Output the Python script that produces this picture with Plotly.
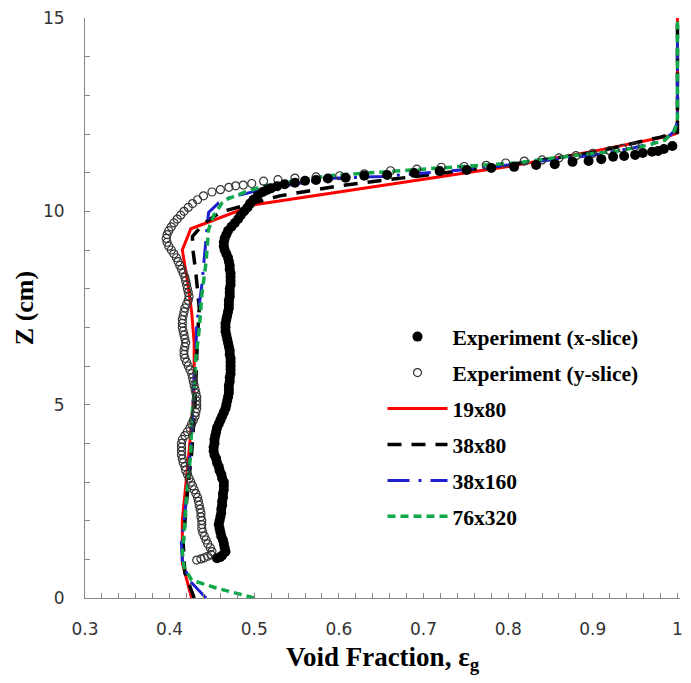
import plotly.graph_objects as go

# ---------------- data ----------------
# Experiment (x-slice): void fraction and height (cm)
xs_void = [0.456, 0.460, 0.462, 0.466, 0.465, 0.464, 0.463, 0.461, 0.460, 0.459, 0.458,
           0.459, 0.460, 0.461, 0.461, 0.462, 0.462, 0.463, 0.463, 0.464, 0.464, 0.464,
           0.462, 0.461, 0.459, 0.458, 0.456, 0.455, 0.453, 0.452, 0.452, 0.453, 0.453,
           0.454, 0.455, 0.456, 0.458, 0.460, 0.462, 0.464, 0.466, 0.467, 0.468, 0.469,
           0.470, 0.470, 0.470, 0.471, 0.471, 0.472, 0.472, 0.472, 0.472, 0.472, 0.471,
           0.471, 0.470, 0.469, 0.468, 0.467, 0.466, 0.466, 0.466, 0.467, 0.468, 0.469,
           0.470, 0.470, 0.470, 0.471, 0.471, 0.471, 0.472, 0.472, 0.472, 0.472, 0.471,
           0.471, 0.470, 0.469, 0.467, 0.465, 0.464, 0.464, 0.465, 0.467, 0.469, 0.473,
           0.477, 0.481, 0.484, 0.488, 0.492, 0.495, 0.499, 0.504, 0.510, 0.515, 0.520,
           0.527, 0.536, 0.548, 0.560, 0.573, 0.587, 0.608, 0.630, 0.657, 0.689, 0.719,
           0.751, 0.780, 0.807, 0.833, 0.855, 0.876, 0.895, 0.910, 0.924, 0.937, 0.950,
           0.959, 0.970, 0.977, 0.984, 0.994]
xs_z = [1.03, 1.06, 1.10, 1.20, 1.30, 1.40, 1.50, 1.60, 1.70, 1.80, 1.90,
        2.00, 2.10, 2.20, 2.30, 2.40, 2.50, 2.60, 2.70, 2.80, 2.90, 3.00,
        3.10, 3.20, 3.30, 3.40, 3.50, 3.60, 3.70, 3.80, 3.90, 4.00, 4.10,
        4.20, 4.30, 4.40, 4.50, 4.60, 4.70, 4.80, 4.90, 5.00, 5.10, 5.20,
        5.30, 5.40, 5.50, 5.60, 5.70, 5.80, 5.90, 6.00, 6.10, 6.20, 6.30,
        6.40, 6.50, 6.60, 6.70, 6.80, 6.90, 7.00, 7.10, 7.20, 7.30, 7.40,
        7.50, 7.60, 7.70, 7.80, 7.90, 8.00, 8.10, 8.20, 8.30, 8.40, 8.50,
        8.60, 8.70, 8.80, 8.90, 9.00, 9.10, 9.20, 9.30, 9.40, 9.50, 9.60,
        9.70, 9.80, 9.90, 10.00, 10.10, 10.20, 10.30, 10.40, 10.50, 10.55, 10.60,
        10.65, 10.70, 10.74, 10.79, 10.81, 10.85, 10.87, 10.92, 10.94, 10.99, 11.04,
        11.07, 11.12, 11.15, 11.20, 11.22, 11.28, 11.30, 11.35, 11.41, 11.43, 11.46,
        11.51, 11.54, 11.56, 11.61, 11.69]

# Experiment (y-slice)
ys_void = [0.432, 0.437, 0.441, 0.445, 0.449, 0.450, 0.448, 0.445, 0.443, 0.441, 0.439,
           0.438, 0.438, 0.438, 0.437, 0.437, 0.436, 0.435, 0.434, 0.433, 0.431, 0.429,
           0.427, 0.425, 0.423, 0.421, 0.419, 0.418, 0.416, 0.415, 0.414, 0.414, 0.414,
           0.414, 0.415, 0.418, 0.421, 0.424, 0.426, 0.428, 0.430, 0.431, 0.432, 0.432,
           0.432, 0.432, 0.431, 0.430, 0.429, 0.428, 0.427, 0.426, 0.424, 0.422, 0.420,
           0.418, 0.417, 0.417, 0.418, 0.419, 0.418, 0.417, 0.416, 0.415, 0.415, 0.415,
           0.416, 0.417, 0.418, 0.420, 0.422, 0.423, 0.422, 0.421, 0.420, 0.419, 0.418,
           0.416, 0.414, 0.412, 0.410, 0.408, 0.405, 0.402, 0.399, 0.397, 0.396, 0.397,
           0.399, 0.402, 0.405, 0.409, 0.413, 0.417, 0.422, 0.427, 0.433, 0.440, 0.450,
           0.460, 0.470, 0.478, 0.487, 0.497, 0.511, 0.528, 0.548, 0.573, 0.601, 0.630,
           0.661, 0.692, 0.721, 0.748, 0.774, 0.797, 0.819, 0.840, 0.860, 0.880, 0.900,
           0.920, 0.935, 0.950]
ys_z = [0.98, 1.01, 1.04, 1.08, 1.12, 1.20, 1.30, 1.40, 1.50, 1.60, 1.70,
        1.80, 1.90, 2.00, 2.10, 2.20, 2.30, 2.40, 2.50, 2.60, 2.70, 2.80,
        2.90, 3.00, 3.10, 3.20, 3.30, 3.40, 3.50, 3.60, 3.70, 3.80, 3.90,
        4.00, 4.10, 4.20, 4.30, 4.40, 4.50, 4.60, 4.70, 4.80, 4.90, 5.00,
        5.10, 5.20, 5.30, 5.40, 5.50, 5.60, 5.70, 5.80, 5.90, 6.00, 6.10,
        6.20, 6.30, 6.40, 6.50, 6.60, 6.70, 6.80, 6.90, 7.00, 7.10, 7.20,
        7.30, 7.40, 7.50, 7.60, 7.70, 7.80, 7.90, 8.00, 8.10, 8.20, 8.30,
        8.40, 8.50, 8.60, 8.70, 8.80, 8.90, 9.00, 9.10, 9.20, 9.30, 9.40,
        9.50, 9.60, 9.70, 9.80, 9.90, 10.00, 10.10, 10.20, 10.30, 10.40, 10.50,
        10.56, 10.62, 10.66, 10.68, 10.72, 10.78, 10.82, 10.86, 10.89, 10.92, 10.97,
        11.05, 11.09, 11.14, 11.16, 11.19, 11.25, 11.30, 11.33, 11.38, 11.44, 11.50,
        11.57, 11.63, 11.68]

# Simulations
m19x80_void = [0.426, 0.415, 0.415, 0.419, 0.423, 0.429, 0.429, 0.426, 0.421, 0.415,
               0.425, 0.500, 0.600, 0.700, 0.800, 0.900, 0.990, 1.000, 1.000]
m19x80_z = [0.0, 0.9, 2.0, 2.9, 3.8, 5.4, 6.6, 7.4, 8.2, 9.0,
            9.55, 10.17, 10.50, 10.83, 11.16, 11.55, 11.95, 12.03, 15.0]

m38x80_void = [0.429, 0.418, 0.416, 0.420, 0.426, 0.430, 0.433, 0.435, 0.431, 0.427,
               0.427, 0.440, 0.460, 0.480, 0.530, 0.600, 0.700, 0.800, 0.900, 0.980,
               1.000, 1.000]
m38x80_z = [0.0, 0.65, 1.4, 2.5, 3.75, 5.0, 6.8, 7.5, 8.4, 9.1,
            9.35, 9.68, 9.98, 10.10, 10.40, 10.66, 10.92, 11.20, 11.52, 11.92,
            12.05, 15.0]

m38x160_void = [0.443, 0.423, 0.415, 0.414, 0.419, 0.426, 0.429, 0.431, 0.432, 0.435,
                0.438, 0.444, 0.446, 0.458, 0.470, 0.508, 0.587, 0.650, 0.704, 0.751,
                0.800, 0.900, 0.950, 0.985, 0.995, 1.000, 1.000]
m38x160_z = [0.0, 0.46, 0.98, 1.41, 2.39, 4.19, 5.78, 6.37, 7.06, 7.65,
             8.09, 9.53, 9.97, 10.22, 10.35, 10.56, 10.85, 10.90, 10.99, 11.08,
             11.20, 11.45, 11.65, 11.85, 12.05, 12.30, 15.0]

m76x320_void = [0.500, 0.455, 0.426, 0.417, 0.415, 0.417, 0.420, 0.425, 0.426, 0.429,
                0.431, 0.435, 0.438, 0.443, 0.446, 0.452, 0.462, 0.466, 0.493, 0.513,
                0.587, 0.665, 0.719, 0.774, 0.809, 0.879, 0.930, 0.965, 0.985, 0.997,
                1.000, 1.000]
m76x320_z = [0.0, 0.26, 0.46, 0.80, 1.20, 1.62, 2.65, 3.75, 4.62, 5.34,
             6.19, 6.96, 7.83, 8.68, 9.53, 9.89, 10.22, 10.30, 10.53, 10.66,
             10.92, 11.05, 11.12, 11.20, 11.25, 11.45, 11.56, 11.71, 11.84, 12.10,
             12.40, 15.0]

x_ticks = [0.3, 0.4, 0.5, 0.6, 0.7, 0.8, 0.9, 1.0]
x_ticklabels = ["0.3", "0.4", "0.5", "0.6", "0.7", "0.8", "0.9", "1"]
y_ticks = [0, 5, 10, 15]

# ---------------- figure ----------------
fig = go.Figure()

fig.add_trace(go.Scatter(x=m19x80_void, y=m19x80_z, mode="lines", name="19x80",
                         line=dict(color="#ff0000", width=3), legendrank=3,
                         legendgroup="c"))
fig.add_trace(go.Scatter(x=m38x80_void, y=m38x80_z, mode="lines", name="38x80",
                         line=dict(color="#000000", width=3.5, dash="14px,10px"),
                         legendrank=4, legendgroup="d"))
fig.add_trace(go.Scatter(x=m38x160_void, y=m38x160_z, mode="lines", name="38x160",
                         line=dict(color="#1f1fd0", width=3, dash="22px,9px,3px,9px"),
                         legendrank=5, legendgroup="e"))
fig.add_trace(go.Scatter(x=m76x320_void, y=m76x320_z, mode="lines", name="76x320",
                         line=dict(color="#0fa84a", width=3.5, dash="8px,5px"),
                         legendrank=6, legendgroup="f"))
fig.add_trace(go.Scatter(x=ys_void, y=ys_z, mode="markers", name="Experiment (y-slice)",
                         marker=dict(symbol="circle-open", size=8, color="#333333",
                                     line=dict(width=1.2, color="#333333")),
                         legendrank=2, legendgroup="b"))
fig.add_trace(go.Scatter(x=xs_void, y=xs_z, mode="markers", name="Experiment (x-slice)",
                         marker=dict(symbol="circle", size=10, color="#000000"),
                         legendrank=1, legendgroup="a"))

axis_common = dict(
    showline=True, linecolor="#868686", linewidth=1, mirror=False,
    showgrid=False, zeroline=False,
    ticks="inside", ticklen=5, tickcolor="#868686", tickwidth=1,
    tickfont=dict(family="DejaVu Sans", size=17, color="#333333"),
)

fig.update_xaxes(
    range=[0.3, 1.003], tickvals=x_ticks, ticktext=x_ticklabels,
    ticklabelstandoff=16,
    minor=dict(dtick=0.02, ticks="inside", ticklen=5, tickcolor="#868686", tickwidth=1),
    title=dict(text="<b>Void Fraction, ε<sub>g</sub></b>",
               font=dict(family="Liberation Serif", size=27, color="#000000"),
               standoff=8),
    **axis_common,
)
fig.update_yaxes(
    range=[0, 15], tickvals=y_ticks,
    ticklabelstandoff=16,
    minor=dict(dtick=1, ticks="inside", ticklen=5, tickcolor="#868686", tickwidth=1),
    title=dict(text="<b>Z (cm)</b>",
               font=dict(family="Liberation Serif", size=26, color="#000000"),
               standoff=1),
    **axis_common,
)

fig.update_layout(
    width=691, height=683,
    margin=dict(l=85, r=8, t=14, b=85),
    paper_bgcolor="white", plot_bgcolor="white",
    legend=dict(x=0.5, y=0.486, xanchor="left", yanchor="top",
                font=dict(family="Liberation Serif", size=21.5, color="#000000",
                          weight="bold"),
                bgcolor="rgba(0,0,0,0)", tracegroupgap=5, traceorder="grouped",
                itemwidth=60),
    showlegend=True,
)

fig.write_html("out.html")
